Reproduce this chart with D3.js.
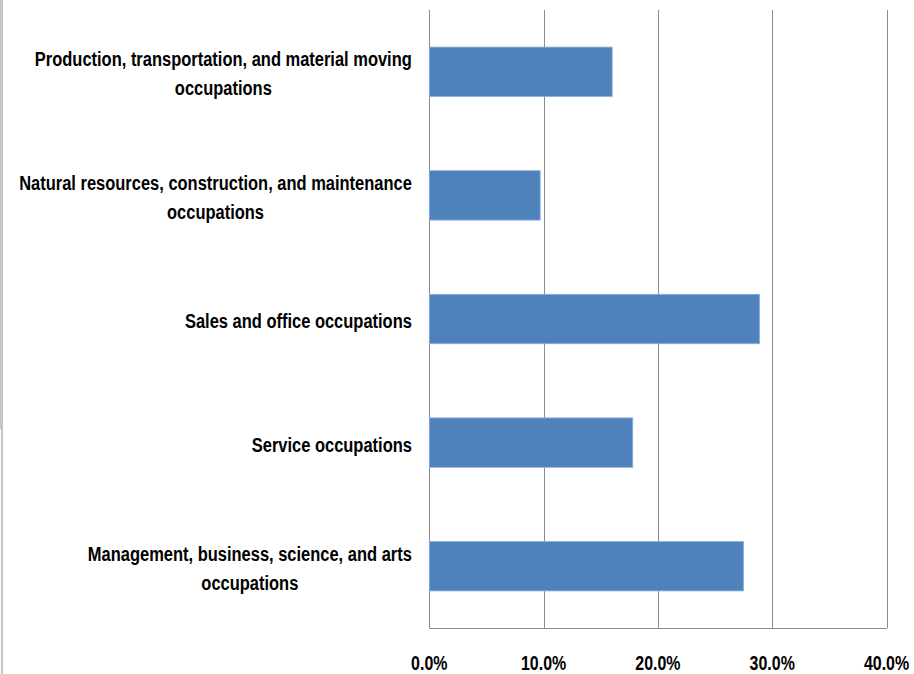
<!DOCTYPE html>
<html>
<head>
<meta charset="utf-8">
<script src="https://cdn.jsdelivr.net/npm/d3@7"></script>
<style>
  html, body { margin: 0; padding: 0; background: #fff; }
  svg { display: block; }
  text { font-family: "Liberation Sans", Arial, sans-serif; font-weight: bold; fill: #000; }
</style>
</head>
<body>
<svg id="chart" width="914" height="674"></svg>
<script>
// Data (top to bottom as displayed)
const categories = [
  "Production, transportation, and material moving occupations",
  "Natural resources, construction, and maintenance occupations",
  "Sales and office occupations",
  "Service occupations",
  "Management, business, science, and arts occupations"
];
const labelLines = [
  ["Production, transportation, and material moving", "occupations"],
  ["Natural resources, construction, and maintenance", "occupations"],
  ["Sales and office occupations"],
  ["Service occupations"],
  ["Management, business, science, and arts", "occupations"]
];
const values = [0.160, 0.097, 0.289, 0.178, 0.275];
const tickValues = [0, 0.1, 0.2, 0.3, 0.4];
const tickLabels = ["0.0%", "10.0%", "20.0%", "30.0%", "40.0%"];

const svg = d3.select("#chart");
const plotLeft = 429.3, plotRight = 886.5, plotTop = 10, plotBottom = 628;
const sx = 0.785; // horizontal condensing of text

const x = d3.scaleLinear().domain([0, 0.4]).range([plotLeft, plotRight]);
const y = d3.scaleBand().domain(categories).range([plotTop, plotBottom]).paddingInner(0.6).paddingOuter(0.3);

// left border line of frame
svg.append("rect").attr("x", 0).attr("y", 0).attr("width", 3).attr("height", 429).attr("fill", "#c4c4c4");
svg.append("rect").attr("x", 1).attr("y", 429).attr("width", 2).attr("height", 245).attr("fill", "#c4c4c4");

// gridlines
svg.append("g").selectAll("line").data(tickValues).join("line")
  .attr("x1", d => Math.round(x(d)) + 0.5).attr("x2", d => Math.round(x(d)) + 0.5)
  .attr("y1", plotTop).attr("y2", plotBottom)
  .attr("stroke", "#8c8c8c").attr("stroke-width", 1);

// bottom axis line
svg.append("line").attr("x1", plotLeft).attr("x2", plotRight + 0.5)
  .attr("y1", plotBottom + 0.5).attr("y2", plotBottom + 0.5)
  .attr("stroke", "#8c8c8c").attr("stroke-width", 1);

// bars
svg.append("g").selectAll("rect").data(categories).join("rect")
  .attr("x", x(0))
  .attr("y", d => y(d))
  .attr("width", (d, i) => x(values[i]) - x(0))
  .attr("height", y.bandwidth())
  .attr("fill", "#4f81bd")
  .attr("stroke", "#8fb0d9").attr("stroke-width", 0.8);

// tick labels
svg.append("g").selectAll("g").data(tickValues).join("g")
  .attr("transform", d => `translate(${x(d)},670) scale(0.76,1)`)
  .append("text")
  .attr("text-anchor", "middle")
  .attr("font-size", 21)
  .text((d, i) => tickLabels[i]);

// category labels: block right-aligned, lines centered within block
const fs = 21, lh = 29, labelRight = 412;
const lg = svg.append("g");
categories.forEach((c, i) => {
  const lines = labelLines[i];
  const gs = lines.map(l => {
    const g = lg.append("g");
    g.append("text").attr("font-size", fs).attr("text-anchor", "middle").text(l);
    return g;
  });
  const widths = gs.map(g => g.select("text").node().getComputedTextLength() * sx);
  const maxW = d3.max(widths);
  const cx = labelRight - maxW / 2;
  const cy = y(c) + y.bandwidth() / 2;
  const n = lines.length;
  gs.forEach((g, j) => {
    const ty = cy + (j - (n - 1) / 2) * lh + 9;
    g.attr("transform", `translate(${cx},${ty}) scale(${sx},1)`);
  });
});
</script>
</body>
</html>
